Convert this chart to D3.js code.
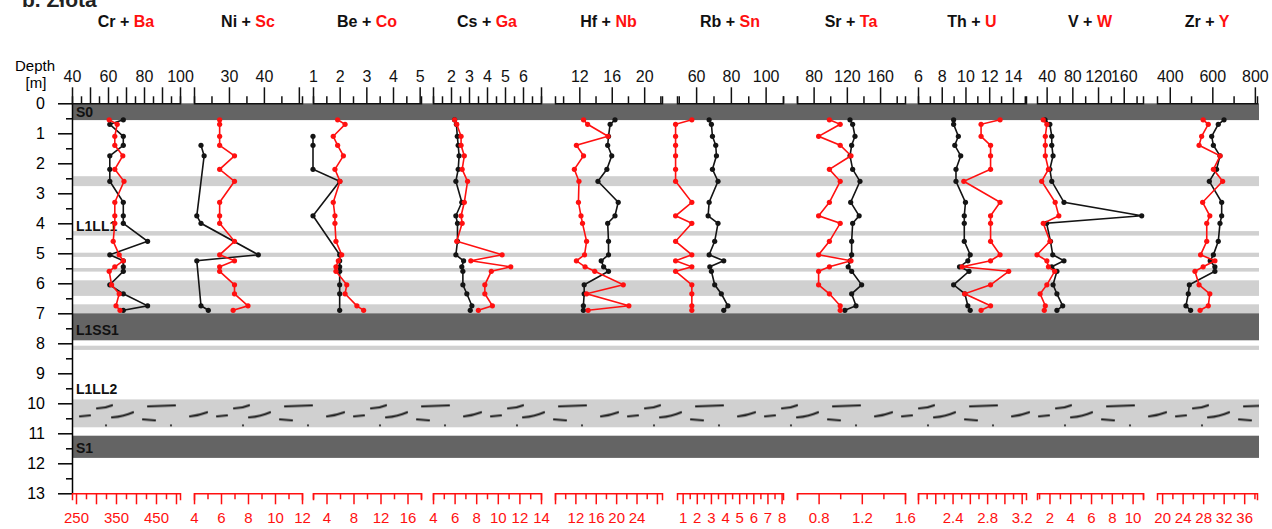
<!DOCTYPE html>
<html>
<head>
<meta charset="utf-8">
<script src="https://cdn.jsdelivr.net/npm/d3@7/dist/d3.min.js"></script>
<style>
body { margin: 0; background: white; }
text { font-family: "Liberation Sans", Arial, sans-serif; }
</style>
</head>
<body>
<script>
const depth = [0.55, 0.7, 1.1, 1.4, 1.75, 2.2, 2.6, 3.3, 3.75, 4.0, 4.6, 5.05, 5.25, 5.45, 5.6, 6.05, 6.35, 6.75, 6.9]

const cr = [68.5, 61, 68.5, 68.5, 61, 61, 61, 68.5, 68.5, 68.5, 82, 61, 68.5, 68.5, 68.5, 61, 68.5, 82, 68.5]
const ba = [333, 353, 347, 347, 367, 347, 370, 347, 347, 347, 343, 358, 368, 347, 333, 339, 358, 350, 360]
const ni = [null, null, null, 22, 22.9, null, null, null, 20.8, 22, null, 38.4, 20.8, null, null, null, null, 22, 24.1]
const sc = [5.9, 5.9, 5.9, 5.9, 7.0, 5.9, 7.0, 5.9, 5.9, 5.9, 7.0, 5.9, 7.0, 5.9, 5.9, 7.0, 7.0, 8.0, 6.9]
const be = [null, null, 1, 1, null, 1, 2, null, 1, null, null, 2, 2, 2, 2, 2, 2, null, 2]
const co = [5.65, 6.75, 5.0, 5.65, 6.5, 5.25, 6.0, 5.0, 5.25, 5.25, 5.4, 6.25, 5.75, 5.4, 5.4, 7.0, 6.75, 8.5, 9.5]
const cs = [2.2, 2.3, 2.35, 2.4, 2.45, 2.4, 2.27, 2.6, 2.27, 2.36, 2.36, 2.27, 2.7, 2.6, 2.66, 2.66, 2.88, 3.16, 3.07]
const ga = [6.0, 6.2, 6.6, 6.6, 6.9, 6.7, 7.2, 6.9, 6.6, 6.7, 6.2, 10.4, 7.5, 11.2, 9.4, 8.8, 8.8, 9.5, 8.2]
const hf = [16.4, 15.8, 15.6, 15.5, 16.0, 15.4, 14.3, 16.8, 16.4, 15.5, 15.6, 15.6, 14.7, 15.0, 15.6, 12.6, 12.6, 12.5, 12.5]
const nb = [13.6, 14.4, 18.4, 12.2, 13.6, 11.8, 12.7, 12.6, 13.1, 13.4, 14.2, 13.8, 12.2, 13.9, 15.8, 21.4, 14.2, 22.5, 14.5]
const rb = [67.5, 68.8, 69.4, 71.3, 71.7, 69.4, 72.6, 67.5, 66.9, 72.6, 70.7, 67.5, 75.9, 67.9, 68.8, 70.7, 74.5, 78.3, 75.9]
const sn = [1.65, 0.5, 0.5, 0.5, 0.5, 0.5, 0.5, 1.65, 0.5, 1.65, 0.5, 1.65, 0.5, 1.65, 0.5, 1.65, 1.65, 1.65, 1.65]
const sr = [123.8, 127, 129.8, 125.8, 123.8, 127, 135.8, 124.6, 134.8, 127, 125.8, 125.8, 123.8, 121.6, 125.8, 137.8, 125.8, 131, 117.6]
const ta = [0.9, 1.0, 0.8, 1.0, 1.1, 0.9, 1.0, 0.9, 0.8, 1.0, 0.9, 0.8, 1.1, 0.9, 0.8, 0.8, 0.9, 1.0, 1.0]
const th = [9.0, 9.0, 9.4, 9.1, 9.6, 9.2, 9.2, 10.0, 9.9, 9.9, 9.9, 10.4, 10.2, 9.5, 10.3, 9.0, 9.95, 10.2, 10.4]
const u = [2.95, 2.73, 2.73, 2.84, 2.84, 2.84, 2.53, 2.95, 2.84, 2.84, 2.84, 2.95, 2.84, 2.51, 3.05, 2.84, 2.54, 2.84, 2.73]
const v = [37.5, 45, 48, 48, 50, 45, 48, 67, 188, 40, 46, 49.5, 67, 48, 56, 50, 56, 65, 56]
const w = [1.4, 1.75, 1.6, 1.6, 1.6, 1.9, 1.25, 2.55, 2.9, 1.4, 2.05, 0.8, 1.75, 1.9, 2.5, 1.75, 1.1, 1.6, 1.5]
const zr = [655, 628, 597, 605, 636, 620, 586, 644, 644, 636, 628, 605, 590, 612, 612, 492, 487, 476, 498]
const yt = [28.0, 29.0, 27.7, 27.2, 31.3, 30.0, 31.8, 27.9, 29.3, 28.7, 28.7, 27.5, 30.3, 28.0, 26.4, 27.2, 29.3, 29.0, 27.4]

const blackNames = ['Cr', 'Ni', 'Be', 'Cs', 'Hf', 'Rb', 'Sr', 'Th', 'V', 'Zr']
const redNames = ['Ba', 'Sc', 'Co', 'Ga', 'Nb', 'Sn', 'Ta', 'U', 'W', 'Y']
const blackValues = [cr, ni, be, cs, hf, rb, sr, th, v, zr]
const redValues = [ba, sc, co, ga, nb, sn, ta, u, w, yt]

const blackDomains = [[40, 100], [20, 50.9], [1, 5.05], [1, 7], [9, 22.2], [49, 110], [60, 190], [6, 15.1], [25, 190], [340, 810]]
const redDomains = [[240, 510], [4, 12], [2, 18], [4, 14], [8, 29], [0.6, 8.1], [0.6, 1.6], [2.0, 3.25], [0.8, 11], [19, 38.5]]
const blackLabels = [[40, 60, 80, 100], [30, 40], [1, 2, 3, 4, 5], [2, 3, 4, 5, 6], [12, 16, 20], [60, 80, 100], [80, 120, 160], [6, 8, 10, 12, 14], [40, 80, 120, 160], [400, 600, 800]]
const redLabels = [[250, 350, 450], [4, 6, 8, 10, 12], [4, 8, 12, 16], [4, 6, 8, 10, 12, 14], [12, 16, 20, 24], [1, 2, 3, 4, 5, 6, 7, 8], [0.8, 1.2, 1.6], [2.4, 2.8, 3.2], [2, 4, 6, 8, 10], [20, 24, 28, 32, 36]]
const blackSteps = [[10, 5], [10, 5], [1, 0.5], [1, 0.5], [4, 2], [20, 10], [40, 20], [2, 1], [40, 20], [200, 100]]
const redSteps = [[50, 25], [2, 1], [4, 2], [2, 1], [4, 2], [1, 0.5], [0.4, 0.2], [0.2, 0.1], [2, 1], [4, 2]]

// lithology
const soilTop = [0, 7.0, 11.08]
const soilBase = [0.56, 7.9, 11.82]
const greyTop = [2.43, 4.26, 4.98, 5.49, 5.9, 6.7, 8.08]
const greyBase = [2.76, 4.41, 5.12, 5.61, 6.42, 7.0, 8.22]
const dollTop = 9.87
const dollBase = 10.8
const unitNames = ['S0', 'L1LL1', 'L1SS1', 'L1LL2', 'S1']
const unitDepth = [0.3, 4.1, 7.55, 9.52, 11.5]

const panelX = [[72, 180], [194, 302], [313, 421], [433, 541], [555, 662], [677, 783], [797, 905], [918, 1026], [1037, 1143], [1157, 1257]]
const left = 72
const right = 1259

const svg = d3.select('body').append('svg')
    .attr('width', 1272)
    .attr('height', 529)
    .style('background-color', 'white')

const y = d3.scaleLinear()
    .domain([0, 13])
    .range([103.3, 493.3])

const defs = svg.append('defs')
const pat = defs.append('pattern')
    .attr('id', 'doll')
    .attr('patternUnits', 'userSpaceOnUse')
    .attr('x', left)
    .attr('y', y(dollTop))
    .attr('width', 137)
    .attr('height', 60)
pat.append('rect')
    .attr('width', 137)
    .attr('height', 60)
    .attr('fill', '#d0d0d0')
const dashes = ['M25,9 q8,0 15,-3', 'M76,7 l27,-1', 'M8,17 l10,-1', 'M40,18 q12,-1 21,-5', 'M118,17 q9,-1 17,-4', 'M71,20 l12,1']
dashes.forEach(p => pat.append('path')
    .attr('d', p)
    .attr('fill', 'none')
    .attr('stroke', '#1e1e1e')
    .attr('stroke-width', 2.2)
    .attr('stroke-linecap', 'round'))
pat.selectAll('circle').data([34, 99]).join('circle')
    .attr('cx', d => d)
    .attr('cy', 26)
    .attr('r', 1.1)
    .attr('fill', '#1e1e1e')

svg.append('rect')
    .attr('x', left)
    .attr('width', right - left)
    .attr('y', y(dollTop))
    .attr('height', y(dollBase) - y(dollTop))
    .attr('fill', 'url(#doll)')

svg.selectAll('.grey').data(greyTop).join('rect')
    .attr('class', 'grey')
    .attr('x', left)
    .attr('width', right - left)
    .attr('y', d => y(d))
    .attr('height', (d, i) => y(greyBase[i]) - y(d))
    .attr('fill', '#d0d0d0')

svg.selectAll('.soil').data(soilTop).join('rect')
    .attr('class', 'soil')
    .attr('x', left)
    .attr('width', right - left)
    .attr('y', d => y(d))
    .attr('height', (d, i) => y(soilBase[i]) - y(d))
    .attr('fill', '#646464')

svg.selectAll('.unit').data(unitNames).join('text')
    .attr('class', 'unit')
    .attr('x', left + 4)
    .attr('y', (d, i) => y(unitDepth[i]))
    .attr('dy', '0.36em')
    .attr('font-size', 14)
    .attr('font-weight', 'bold')
    .attr('fill', '#111')
    .text(d => d)

// depth axis
const depthAxis = svg.append('g')
    .attr('transform', `translate(${left},0)`)
    .style('stroke-width', 1.5)
    .call(d3.axisLeft(y).tickValues(d3.range(0, 14)).tickSize(14).tickSizeOuter(0).tickPadding(13))
depthAxis.selectAll('text').attr('font-size', 16).attr('font-family', '"Liberation Sans", Arial, sans-serif')
svg.append('g')
    .attr('transform', `translate(${left},0)`)
    .style('stroke-width', 1.5)
    .call(d3.axisLeft(y).tickValues(d3.range(0.5, 13, 1)).tickSize(6).tickFormat(''))
    .call(g => g.select('.domain').remove())

svg.append('text').attr('x', 35).attr('y', 71).attr('text-anchor', 'middle').attr('font-size', 15).text('Depth')
svg.append('text').attr('x', 36).attr('y', 88).attr('text-anchor', 'middle').attr('font-size', 15).text('[m]')
svg.append('text').attr('x', 22).attr('y', 7).attr('font-size', 21).attr('font-weight', 'bold').attr('fill', '#222').text('b. Złota')

const stepTicks = (dom, step) => d3.range(Math.ceil(dom[0] / step - 1e-9), Math.floor(dom[1] / step + 1e-9) + 1)
    .map(k => +(k * step).toFixed(4))
const isMultiple = (val, step) => Math.abs(val / step - Math.round(val / step)) < 1e-6

const line = (xs) => d3.line()
    .x(d => xs(d.v))
    .y(d => y(d.d))

panelX.forEach((r, i) => {
    const xb = d3.scaleLinear().domain(blackDomains[i]).range(r)
    const xr = d3.scaleLinear().domain(redDomains[i]).range(r)
    const bData = depth.map((d, j) => ({d: d, v: blackValues[i][j]})).filter(p => p.v !== null)
    const rData = depth.map((d, j) => ({d: d, v: redValues[i][j]})).filter(p => p.v !== null)

    svg.append('path')
        .datum(bData)
        .attr('fill', 'none')
        .attr('stroke', '#141414')
        .attr('stroke-width', 1.6)
        .attr('d', line(xb))
    svg.append('g').selectAll('circle').data(bData).join('circle')
        .attr('cx', d => xb(d.v))
        .attr('cy', d => y(d.d))
        .attr('r', 2.6)
        .attr('fill', '#141414')

    svg.append('path')
        .datum(rData)
        .attr('fill', 'none')
        .attr('stroke', '#ff1010')
        .attr('stroke-width', 1.6)
        .attr('d', line(xr))
    svg.append('g').selectAll('circle').data(rData).join('circle')
        .attr('cx', d => xr(d.v))
        .attr('cy', d => y(d.d))
        .attr('r', 2.6)
        .attr('fill', '#ff1010')

    // top axis (black element)
    const [bt, bs] = blackSteps[i]
    const bTall = stepTicks(blackDomains[i], bt)
    const bShort = stepTicks(blackDomains[i], bs).filter(t => !isMultiple(t, bt))
    const topAxis = svg.append('g')
        .attr('transform', `translate(0,${y(0)})`)
        .attr('color', '#111')
        .style('stroke-width', 1.5)
        .call(d3.axisTop(xb).tickValues(bTall).tickSize(16).tickSizeOuter(7).tickPadding(5)
            .tickFormat(d => blackLabels[i].includes(d) ? String(d) : ''))
    topAxis.selectAll('text').attr('font-size', 16).attr('font-family', '"Liberation Sans", Arial, sans-serif')
    svg.append('g')
        .attr('transform', `translate(0,${y(0)})`)
        .attr('color', '#111')
        .style('stroke-width', 1.5)
        .call(d3.axisTop(xb).tickValues(bShort).tickSize(7).tickFormat(''))
        .call(g => g.select('.domain').remove())

    // bottom axis (red element)
    const [rt, rs] = redSteps[i]
    const rTall = stepTicks(redDomains[i], rt)
    const rShort = stepTicks(redDomains[i], rs).filter(t => !isMultiple(t, rt))
    const botAxis = svg.append('g')
        .attr('transform', `translate(0,${y(13)})`)
        .attr('color', '#ff1010')
        .style('stroke-width', 1.5)
        .call(d3.axisBottom(xr).tickValues(rTall).tickSize(11).tickSizeOuter(7).tickPadding(8)
            .tickFormat(d => redLabels[i].includes(d) ? String(d) : ''))
    botAxis.selectAll('text').attr('font-size', 15).attr('font-family', '"Liberation Sans", Arial, sans-serif')
    svg.append('g')
        .attr('transform', `translate(0,${y(13)})`)
        .attr('color', '#ff1010')
        .style('stroke-width', 1.5)
        .call(d3.axisBottom(xr).tickValues(rShort).tickSize(6).tickFormat(''))
        .call(g => g.select('.domain').remove())

    const title = svg.append('text')
        .attr('x', (r[0] + r[1]) / 2)
        .attr('y', 27)
        .attr('text-anchor', 'middle')
        .attr('font-size', 16)
        .attr('font-weight', 'bold')
    title.append('tspan').attr('fill', '#111').text(blackNames[i] + ' + ')
    title.append('tspan').attr('fill', '#ff1010').text(redNames[i])
})
</script>
</body>
</html>
